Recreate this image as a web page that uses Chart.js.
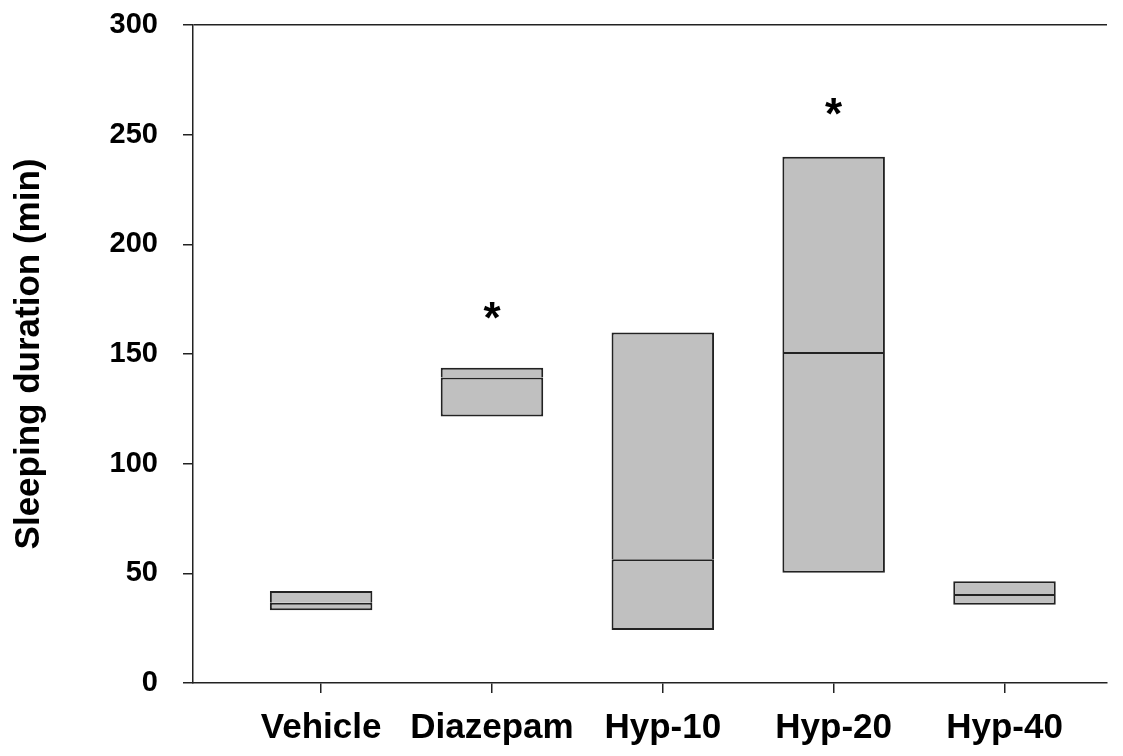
<!DOCTYPE html>
<html>
<head>
<meta charset="utf-8">
<script src="https://cdn.jsdelivr.net/npm/chart.js@4.4.1/dist/chart.umd.min.js"></script>
<style>
  html, body { margin: 0; padding: 0; background: #ffffff; }
  #wrap { width: 1123px; height: 756px; position: relative; }
</style>
</head>
<body>
<div id="wrap"><canvas id="c"></canvas></div>
<script>
// ---- data ----
const categories = ['Vehicle', 'Diazepam', 'Hyp-10', 'Hyp-20', 'Hyp-40'];
const lowerValues  = [33.2, 121.5, 24.2, 50.3, 35.7];
const medianValues = [36.6, 139.3, 56.4, 150.9, 40.6];
const upperValues  = [42.0, 143.7, 159.8, 239.9, 46.4];
const significance = [null, 169.7, null, 263.0, null];
const yTickValues  = [0, 50, 100, 150, 200, 250, 300];

const FONT = '"Liberation Sans", Arial, Helvetica, sans-serif';
const LINE = '#222222';
const FILL = '#c0c0c0';

const lowerBox = categories.map((c, i) => ({ x: i, y: [lowerValues[i], medianValues[i]] }));
const upperBox = categories.map((c, i) => ({ x: i, y: [medianValues[i], upperValues[i]] }));

const starPlugin = {
  id: 'stars',
  afterDatasetsDraw(chart) {
    const { ctx, scales: { x, y } } = chart;
    ctx.save();
    ctx.fillStyle = '#000000';
    ctx.font = 'bold 44px ' + FONT;
    ctx.textAlign = 'center';
    ctx.textBaseline = 'alphabetic';
    const m = ctx.measureText('*');
    significance.forEach((v, i) => {
      if (v === null) return;
      const px = x.getPixelForValue(i);
      const py = y.getPixelForValue(v);
      ctx.fillText('*', px, py + (m.actualBoundingBoxAscent - m.actualBoundingBoxDescent) / 2);
    });
    ctx.restore();
  }
};

new Chart(document.getElementById('c'), {
  type: 'bar',
  data: {
    datasets: [
      {
        label: 'lower',
        data: lowerBox,
        backgroundColor: FILL,
        borderColor: LINE,
        borderWidth: { top: 2, left: 2, right: 2, bottom: 2 },
        borderSkipped: false,
        grouped: false,
        barPercentage: 0.6,
        categoryPercentage: 1.0
      },
      {
        label: 'upper',
        data: upperBox,
        backgroundColor: FILL,
        borderColor: LINE,
        borderWidth: { top: 2, left: 2, right: 2, bottom: 0 },
        borderSkipped: false,
        grouped: false,
        barPercentage: 0.6,
        categoryPercentage: 1.0
      }
    ]
  },
  options: {
    responsive: true,
    maintainAspectRatio: false,
    animation: false,
    layout: { padding: { left: 0, right: 16, top: 25, bottom: 0 } },
    plugins: {
      legend: { display: false },
      tooltip: { enabled: false }
    },
    scales: {
      x: {
        type: 'linear',
        min: -0.75,
        max: 4.6,
        offset: false,
        afterBuildTicks(scale) {
          scale.ticks = categories.map((c, i) => ({ value: i }));
        },
        afterFit(scale) {
          scale.height = 73;
          scale.paddingLeft = 0;
          scale.paddingRight = 0;
        },
        grid: {
          offset: false,
          drawOnChartArea: false,
          drawTicks: true,
          tickLength: 10,
          tickColor: LINE,
          lineWidth: 1.5
        },
        border: { display: true, color: LINE, width: 1.5 },
        ticks: {
          autoSkip: false,
          maxRotation: 0,
          padding: 14,
          color: '#000000',
          font: { family: FONT, size: 35, weight: 'bold' },
          callback: (v) => categories[v]
        }
      },
      y: {
        type: 'linear',
        min: 0,
        max: 300,
        afterBuildTicks(scale) {
          scale.ticks = yTickValues.map(v => ({ value: v }));
        },
        afterFit(scale) {
          scale.width = 193;
          scale.paddingTop = 0;
          scale.paddingBottom = 0;
        },
        grid: {
          drawOnChartArea: true,
          drawTicks: true,
          tickLength: 10,
          tickColor: LINE,
          lineWidth: 1.5,
          color: (ctx) => (ctx.tick && ctx.tick.value === 300) ? LINE : 'rgba(0,0,0,0)'
        },
        border: { display: true, color: LINE, width: 1.5 },
        ticks: {
          padding: 25,
          color: '#000000',
          font: { family: FONT, size: 29, weight: 'bold' }
        },
        title: {
          display: true,
          text: 'Sleeping duration (min)',
          color: '#000000',
          padding: { top: 8, bottom: 0 },
          font: { family: FONT, size: 35, weight: 'bold' }
        }
      }
    }
  },
  plugins: [starPlugin]
});
</script>
</body>
</html>
